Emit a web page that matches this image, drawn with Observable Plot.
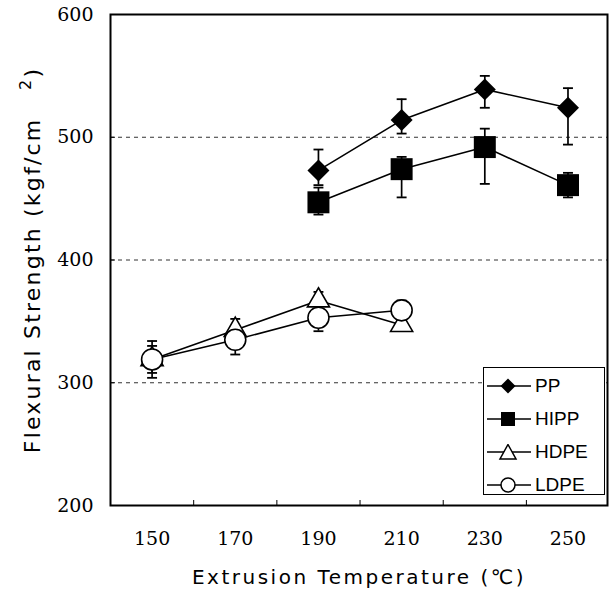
<!DOCTYPE html>
<html><head><meta charset="utf-8">
<script src="https://cdn.jsdelivr.net/npm/d3@7"></script>
<script src="https://cdn.jsdelivr.net/npm/@observablehq/plot@0.6"></script>
<style>
body{margin:0;background:#fff;}
#wrap{position:relative;width:609px;height:596px;}
#legend{position:absolute;left:483px;top:367px;width:120px;height:126px;border:1.5px solid #000;background:#fff;
  font-family:"Liberation Sans",Arial,sans-serif;font-size:19px;color:#000;}
.item{position:absolute;left:2px;height:30px;display:flex;align-items:center;}
.item svg{display:block;}
.item span{margin-left:3px;}
</style></head><body><div id="wrap"></div>
<script>
// ---- data ----
const temps = [150, 170, 190, 210, 230, 250];
const ppTemps = [190, 210, 230, 250];
const ppMean = [473, 514, 539, 524];
const ppLow  = [461, 503, 524, 494];
const ppHigh = [490, 531, 550, 540];
const hippMean = [447, 474, 492, 461];
const hippLow  = [437, 451, 462, 451];
const hippHigh = [459, 484, 507, 471];
const peTemps = [150, 170, 190, 210];
const hdpeMean = [319, 343, 367, 347];
const hdpeLow  = [304, 336, 360, 343];
const hdpeHigh = [334, 352, 374, 351];
const ldpeMean = [319, 335, 353, 359];
const ldpeLow  = [308, 323, 342, 352];
const ldpeHigh = [330, 345, 363, 367];
const yTicks = [200, 300, 400, 500, 600];
const gridValues = [300, 400, 500];
const xMinorTicks = [160, 180, 200, 220, 240];
const seriesNames = ["PP", "HIPP", "HDPE", "LDPE"];

function rows(name, xs, m, lo, hi) {
  return xs.map((x, i) => ({series: name, x, y: m[i], lo: lo[i], hi: hi[i]}));
}
const pp = rows("PP", ppTemps, ppMean, ppLow, ppHigh);
const hipp = rows("HIPP", ppTemps, hippMean, hippLow, hippHigh);
const hdpe = rows("HDPE", peTemps, hdpeMean, hdpeLow, hdpeHigh);
const ldpe = rows("LDPE", peTemps, ldpeMean, ldpeLow, ldpeHigh);

const cap = {draw(ctx, size) { const w = Math.sqrt(size) / 2; ctx.moveTo(-w, 0); ctx.lineTo(w, 0); }};
const serif = "'DejaVu Serif','Liberation Serif',serif";
const sans = "'DejaVu Sans','Liberation Sans',sans-serif";

function errs(data) {
  return [
    Plot.ruleX(data, {x: "x", y1: "lo", y2: "hi", stroke: "#000", strokeWidth: 1.7}),
    Plot.dot(data, {x: "x", y: "lo", symbol: cap, r: 5.6, stroke: "#000", strokeWidth: 1.8}),
    Plot.dot(data, {x: "x", y: "hi", symbol: cap, r: 5.6, stroke: "#000", strokeWidth: 1.8})
  ];
}

const chart = Plot.plot({
  width: 609, height: 596,
  marginLeft: 110, marginRight: 2, marginTop: 14, marginBottom: 91,
  x: {domain: [140, 259.5]},
  y: {domain: [200, 600]},
  style: {background: "#fff", color: "#000"},
  marks: [
    Plot.ruleY(gridValues, {stroke: "#333", strokeWidth: 1, strokeDasharray: "4,4"}),
    Plot.axisY({ticks: yTicks, tickSize: 0, tickPadding: 17, label: null, fontSize: 19, fontFamily: serif}),
    Plot.axisY({ticks: gridValues, tickSize: -5, tickFormat: () => "", label: null}),
    Plot.axisX({ticks: temps, tickSize: 0, tickPadding: 26, label: null, fontSize: 19, fontFamily: serif}),
    Plot.axisX({ticks: xMinorTicks, tickSize: -5, tickFormat: () => "", label: null}),
    Plot.line([...pp, ...hipp, ...hdpe, ...ldpe], {x: "x", y: "y", z: "series", stroke: "#000", strokeWidth: 1.6}),
    ...errs(hipp), ...errs(pp),
    Plot.dot(hipp, {x: "x", y: "y", symbol: "square", r: 12.4, fill: "#000"}),
    Plot.dot(pp, {x: "x", y: "y", symbol: "diamond2", r: 9.9, fill: "#000"}),
    ...errs(hdpe), ...errs(ldpe),
    Plot.dot(hdpe, {x: "x", y: "y", symbol: "triangle", r: 8.2, fill: "#fff", stroke: "#000", strokeWidth: 1.6}),
    Plot.dot(ldpe, {x: "x", y: "y", symbol: "circle", r: 10.5, fill: "#fff", stroke: "#000", strokeWidth: 1.6}),
    Plot.frame({stroke: "#000", strokeWidth: 2})
  ]
});

const svg = d3.select(chart);
svg.append("text")
  .attr("transform", "translate(34,260) rotate(-90)")
  .attr("text-anchor", "middle").attr("dominant-baseline", "middle")
  .attr("font-family", sans).attr("font-size", 22).attr("letter-spacing", 2.2).attr("fill", "#000")
  .call(t => {
    t.append("tspan").text("Flexural Strength (kgf/cm\u00a0\u00a0\u00a0");
    t.append("tspan").attr("font-size", 16).attr("dy", -8).text("2");
    t.append("tspan").attr("dy", 8).text(")");
  });
svg.append("text")
  .attr("x", 359).attr("y", 578)
  .attr("text-anchor", "middle").attr("dominant-baseline", "middle")
  .attr("font-family", sans).attr("font-size", 20).attr("letter-spacing", 2.5).attr("fill", "#000")
  .text("Extrusion Temperature (\u2103)");

const wrap = document.getElementById("wrap");
wrap.appendChild(chart);

// legend
const legend = document.createElement("div");
legend.id = "legend";
const symDefs = {
  PP: `<path d="M22,0.5 L29.5,8 L22,15.5 L14.5,8 Z" fill="#000"/>`,
  HIPP: `<rect x="15" y="1" width="14" height="14" fill="#000"/>`,
  HDPE: `<path d="M22,0.5 L30,15 L14,15 Z" fill="#fff" stroke="#000" stroke-width="1.5"/>`,
  LDPE: `<circle cx="22" cy="8" r="7" fill="#fff" stroke="#000" stroke-width="1.5"/>`
};
seriesNames.forEach((name, i) => {
  const it = document.createElement("div");
  it.className = "item";
  it.style.top = (3 + i * 33) + "px";
  it.innerHTML = `<svg width="46" height="16"><line x1="1" y1="8" x2="45" y2="8" stroke="#000" stroke-width="1.5"/>${symDefs[name]}</svg><span>${name}</span>`;
  legend.appendChild(it);
});
wrap.appendChild(legend);
</script>
</body></html>
